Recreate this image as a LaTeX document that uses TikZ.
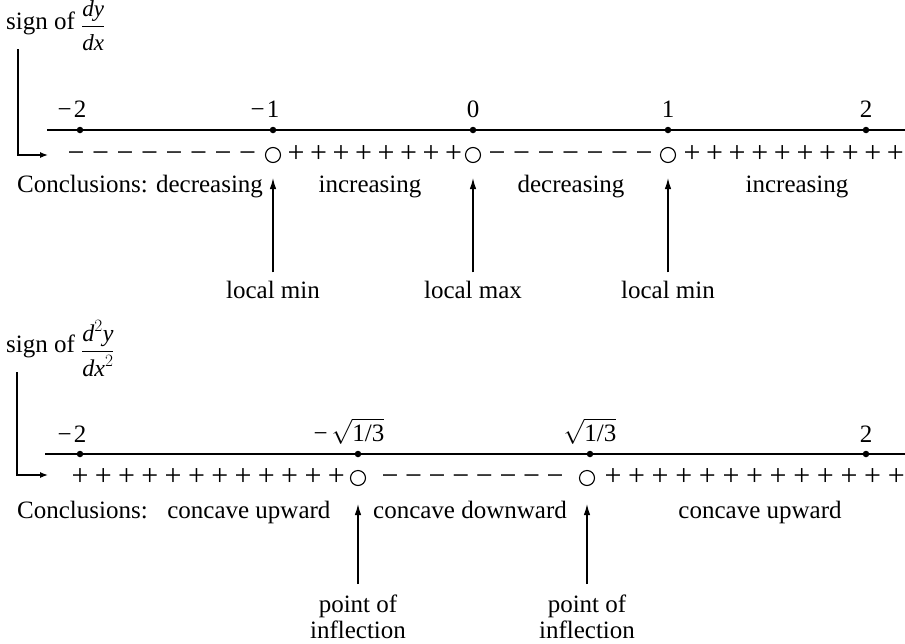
\documentclass[tikz,border=0pt]{standalone}
\usepackage{amsmath}
\usepackage{fontspec}
\setmainfont{Liberation Serif}
\usetikzlibrary{arrows.meta}
\begin{document}
\begin{tikzpicture}[x=1pt,y=-1pt,
  lbl/.style={font=\fontsize{25}{30}\selectfont, inner sep=0pt, anchor=base},
  sgn/.style={font=\fontsize{30}{34}\selectfont, inner sep=0pt, anchor=base},
  axisline/.style={line width=1.7pt},
  tickdot/.style={circle, fill=black, inner sep=0pt, minimum size=6.5pt},
  opencirc/.style={circle, draw=black, line width=1.1pt, inner sep=0pt, minimum size=15pt},
  pointer/.style={line width=1.2pt, -{Latex[length=11pt,width=6.5pt]}},
  sidearrow/.style={line width=1.3pt, -{Latex[length=8pt,width=6pt]}},
]
\useasboundingbox (0,0) rectangle (905,643);

% ---------- first diagram: sign of dy/dx ----------
\node[lbl, anchor=base west] (s1) at (6,29) {sign of \raisebox{-4pt}{\fontsize{23}{27}\selectfont$\dfrac{\textit{dy}}{\textit{dx}}$}};
\coordinate (v1) at (18,49);
\coordinate (h1) at (48,155);
\draw[sidearrow] (v1) |- (h1);

\coordinate (l1s) at (47,130);
\coordinate (l1e) at (905,130);
\draw[axisline] (l1s) -- (l1e);

\node[tickdot] (d1a) at (80,130) {};
\node[tickdot] (d1b) at (273,130) {};
\node[tickdot] (d1c) at (473,130) {};
\node[tickdot] (d1d) at (668,130) {};
\node[tickdot] (d1e) at (866,130) {};
\node[lbl] (n1a) at (80,117) {\llap{−\kern2pt}2};
\node[lbl] (n1b) at (273,117) {\llap{−\kern2pt}1};
\node[lbl] (n1c) at (473,117) {0};
\node[lbl] (n1d) at (668,117) {1};
\node[lbl] (n1e) at (866,117) {2};

\foreach \i in {0,...,7} \node[sgn] (ta\i) at ({76+24.5*\i},162.5) {−};
\node[opencirc] (tc1) at (273,155) {};
\foreach \i in {0,...,7} \node[sgn] (tb\i) at ({296+22.5*\i},162.5) {+};
\node[opencirc] (tc2) at (473,155) {};
\foreach \i in {0,...,6} \node[sgn] (td\i) at ({497+24.5*\i},162.5) {−};
\node[opencirc] (tc3) at (668,155) {};
\foreach \i in {0,...,9} \node[sgn] (te\i) at ({692+22.6*\i},162.5) {+};

\node[lbl, anchor=base west] (c1) at (17,192) {Conclusions: decreasing};
\node[lbl] (c2) at (370,192) {increasing};
\node[lbl] (c3) at (571,192) {decreasing};
\node[lbl] (c4) at (797,192) {increasing};

\node[lbl] (lm1) at (273,298) {local min};
\node[lbl] (lm2) at (473,298) {local max};
\node[lbl] (lm3) at (668,298) {local min};
\draw[pointer] ([yshift=8pt]lm1.north) -- ([yshift=-15pt]tc1.south);
\draw[pointer] ([yshift=8pt]lm2.north) -- ([yshift=-15pt]tc2.south);
\draw[pointer] ([yshift=8pt]lm3.north) -- ([yshift=-15pt]tc3.south);

% ---------- second diagram: sign of d2y/dx2 ----------
\node[lbl, anchor=base west] (s2) at (6,352) {sign of \raisebox{-6pt}{\fontsize{24}{28}\selectfont$\dfrac{\textit{d}^{2}\textit{y}}{\textit{dx}^{2}}$}};
\coordinate (v2) at (17,372);
\coordinate (h2) at (48,475);
\draw[sidearrow] (v2) |- (h2);

\coordinate (l2s) at (45,454);
\coordinate (l2e) at (905,454);
\draw[axisline] (l2s) -- (l2e);

\node[tickdot] (d2a) at (80,454) {};
\node[tickdot] (d2b) at (358,454) {};
\node[tickdot] (d2c) at (590,454) {};
\node[tickdot] (d2d) at (866,454) {};
\node[lbl] (n2a) at (80,442) {\llap{−\kern2pt}2};
\node[lbl] (n2b) at (358,441) {\llap{−\kern4pt}$\sqrt{\text{1/3}}$};
\node[lbl] (n2c) at (590,441) {$\sqrt{\text{1/3}}$};
\node[lbl] (n2d) at (866,442) {2};

\foreach \i in {0,...,11} \node[sgn] (ba\i) at ({80+23.3*\i},485) {+};
\node[opencirc] (bc1) at (358,478) {};
\foreach \i in {0,...,7} \node[sgn] (bb\i) at ({390+23.6*\i},485) {−};
\node[opencirc] (bc2) at (587,478) {};
\foreach \i in {0,...,12} \node[sgn] (bd\i) at ({613+23.6*\i},485) {+};

\node[lbl, anchor=base west] (cc1) at (17,518) {Conclusions:\hspace{0.45em} concave upward};
\node[lbl] (cc2) at (470,518) {concave downward};
\node[lbl] (cc3) at (760,518) {concave upward};

\node[lbl] (pi1) at (358,612) {point of};
\node[lbl] (pi1b) at (358,638) {inflection};
\node[lbl] (pi2) at (587,612) {point of};
\node[lbl] (pi2b) at (587,638) {inflection};
\draw[pointer] ([yshift=10pt]pi1.north) -- ([yshift=-18pt]bc1.south);
\draw[pointer] ([yshift=10pt]pi2.north) -- ([yshift=-18pt]bc2.south);
\end{tikzpicture}
\end{document}
